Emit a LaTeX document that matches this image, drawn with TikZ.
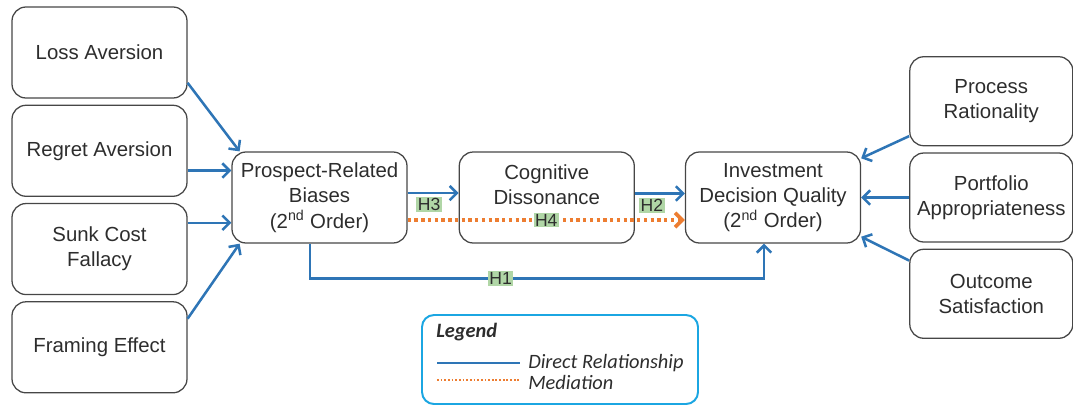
\documentclass[tikz,border=0pt]{standalone}
\usepackage{fontspec}
\setmainfont{Liberation Sans}
\newfontfamily\legendfont{Carlito}
\usetikzlibrary{arrows.meta,positioning}
\definecolor{linkblue}{RGB}{46,117,182}
\definecolor{medorange}{RGB}{237,125,49}
\definecolor{legendblue}{RGB}{27,166,226}
\definecolor{hgreen}{RGB}{176,214,166}
\definecolor{boxgray}{RGB}{70,70,70}
\definecolor{textgray}{RGB}{45,45,45}
\tikzset{%
  >={Straight Barb[length=1.8mm,width=3.6mm]},
  % Specifications for style of nodes:
            base/.style = {rectangle, rounded corners=0.35cm, draw=boxgray,
                           line width=0.9pt, minimum width=4.375cm,
                           minimum height=2.275cm, text centered, align=center,
                           text=textgray, font=\fontsize{14.5}{18}\selectfont},
          factor/.style = {base},
         measure/.style = {base, minimum width=4.075cm, minimum height=2.225cm},
       legendbox/.style = {rectangle, rounded corners=0.3cm, draw=legendblue,
                           line width=1.4pt, minimum width=6.9cm,
                           minimum height=2.225cm},
      legendtext/.style = {anchor=west, inner sep=0pt, text=textgray,
                           font=\legendfont\fontsize{14.5}{17}\selectfont\itshape},
          direct/.style = {->, draw=linkblue, line width=1.8pt},
       mediation/.style = {->, draw=medorange, line width=2.6pt,
                           dash pattern=on 2.4pt off 2.4pt},
          hlabel/.style = {fill=hgreen, inner sep=1pt, text=textgray,
                           font=\fontsize{12.5}{14}\selectfont},
}
\begin{document}
\begin{tikzpicture}
  \useasboundingbox (0,0) rectangle (26.825,-10.15);
  % Specification of nodes (position, etc.)
  \node (loss)      [factor] at (2.4875,-1.3125) {Loss Aversion};
  \node (regret)    [factor, below=0.15cm of loss]   {Regret Aversion};
  \node (sunk)      [factor, below=0.15cm of regret] {Sunk Cost\\Fallacy};
  \node (framing)   [factor, below=0.15cm of sunk]   {Framing Effect};
  \node (prospect)  [factor] at (7.9875,-4.9375)
        {Prospect-Related\\Biases\\(2\textsuperscript{nd} Order)};
  \node (cognitive) [factor, right=1.275cm of prospect] {Cognitive\\Dissonance\\~};
  \node (investment) [factor, right=1.25cm of cognitive]
        {Investment\\Decision Quality\\(2\textsuperscript{nd} Order)};
  \node (portfolio) [measure, right=1.2cm of investment] {Portfolio\\Appropriateness};
  \node (process)   [measure, above=0.15cm of portfolio] {Process\\Rationality};
  \node (outcome)   [measure, below=0.15cm of portfolio] {Outcome\\Satisfaction};

  % Specification of lines between nodes specified above
\draw[direct] (loss.-19) -- (prospect.150);
\draw[direct] (regret.east |- prospect.163) -- (prospect.163);
\draw[direct] (sunk.east |- prospect.196) -- (prospect.196);
\draw[direct] (framing.18) -- (prospect.210);
\draw[direct] (process.203) -- (investment.24);
\draw[direct] (portfolio.west) -- (investment.east);
\draw[direct] (outcome.158) -- (investment.-24);
\draw[direct] ([yshift=0.11cm]prospect.east) coordinate (h3s)
      -- node[hlabel, pos=0.42, below=2pt] {H3} (cognitive.west |- h3s);
\draw[direct] ([yshift=0.1cm]cognitive.east) coordinate (h2s)
      -- node[hlabel, pos=0.34, below=2pt] {H2} (investment.west |- h2s);
\draw[direct] ([xshift=-0.24cm]prospect.south) -- ++(0,-0.875)
      -| node[hlabel, pos=0.21] {H1} ([xshift=-0.225cm]investment.south);
\draw[mediation] ([yshift=-0.5625cm]prospect.east) coordinate (h4s)
      -- node[hlabel, midway] {H4} (investment.west |- h4s);

  % legend
  \node (legend) [legendbox] at (14.0,-8.9875) {};
  \node (legendtitle) [legendtext, font=\legendfont\fontsize{14.5}{17}\selectfont\bfseries\itshape]
        at (10.9,-8.3) {Legend};
  \coordinate (ds) at (10.925,-9.075);
  \coordinate (de) at (13.0,-9.075);
  \coordinate (ms) at (10.925,-9.5);
  \coordinate (me) at (13.0,-9.5);
  \draw[direct, -] (ds) -- (de);
  \draw[mediation, -, line width=1.3pt, dash pattern=on 1.3pt off 1.3pt] (ms) -- (me);
  \node (directtext)    [legendtext] at (13.2,-9.075) {Direct Relationship};
  \node (mediationtext) [legendtext] at (13.2,-9.55) {Mediation};
\end{tikzpicture}
\end{document}
